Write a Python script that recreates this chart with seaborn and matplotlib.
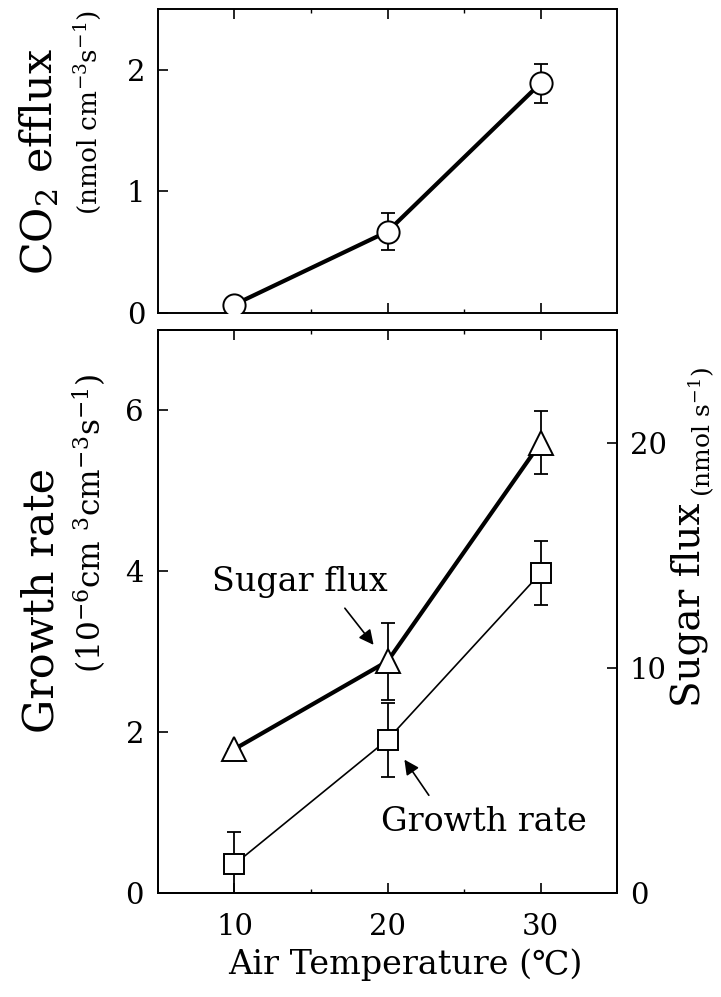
import matplotlib
matplotlib.use("Agg")
import matplotlib.pyplot as plt
import numpy as np
import pandas as pd
import seaborn as sns

# air temperature (C)
temp = [10, 20, 30]

# CO2 efflux (nmol cm-3 s-1)
co2 = [0.07, 0.67, 1.89]
co2_err = [0.0, 0.15, 0.16]

# growth rate (1e-6 cm3 cm-3 s-1)
growth = [0.36, 1.91, 3.98]
growth_err = [0.40, 0.46, 0.40]

# sugar flux (nmol s-1)
sugar = [6.4, 10.3, 20.0]
sugar_err = [0.0, 1.7, 1.4]

sns.set_style('ticks')
plt.rcParams['font.family'] = ['DejaVu Serif']
plt.rcParams['mathtext.fontset'] = 'dejavuserif'
plt.rcParams['axes.linewidth'] = 1.4
plt.rcParams['axes.edgecolor'] = 'black'
plt.rcParams['text.color'] = 'black'
plt.rcParams['xtick.color'] = 'black'
plt.rcParams['ytick.color'] = 'black'

df = pd.DataFrame({'temp': temp, 'co2': co2, 'growth': growth, 'sugar': sugar})

fig = plt.figure(figsize=(7.21, 9.97), dpi=100)
ax1 = fig.add_axes([0.219, 0.686, 0.637, 0.305])
ax = fig.add_axes([0.219, 0.104, 0.637, 0.565])
ax2 = ax.twinx()

mk = dict(markerfacecolor='white', markeredgecolor='black', markeredgewidth=1.4)
eb = dict(fmt='none', ecolor='black', elinewidth=1.3, capsize=5, capthick=1.3, zorder=1)

# top panel: CO2 efflux
ax1.errorbar(temp, co2, yerr=co2_err, **eb)
sns.lineplot(data=df, x='temp', y='co2', ax=ax1, color='black', linewidth=3,
             marker='o', markersize=16, zorder=3, **mk)
ax1.set_xlim(5, 35)
ax1.set_ylim(0, 2.5)
ax1.set_yticks([0, 1, 2])
ax1.set_xticks([10, 20, 30])
ax1.set_xticks([15, 25], minor=True)
ax1.set_xticklabels([])
ax1.set_xlabel('')
ax1.set_ylabel('')
ax1.tick_params(direction='in', length=7, width=1.2, labelsize=21, pad=9,
                top=True, right=False)
ax1.tick_params(which='minor', direction='in', length=3, width=1, top=True)

# bottom panel: growth rate (left) and sugar flux (right)
ax.errorbar(temp, growth, yerr=growth_err, **eb)
sns.lineplot(data=df, x='temp', y='growth', ax=ax, color='black', linewidth=1.2,
             marker='s', markersize=15, zorder=3, **mk)
ax2.errorbar(temp, sugar, yerr=sugar_err, **eb)
sns.lineplot(data=df, x='temp', y='sugar', ax=ax2, color='black', linewidth=3,
             marker='^', markersize=17, zorder=3, **mk)

ax.set_xlim(5, 35)
ax.set_ylim(0, 7)
ax2.set_ylim(0, 25)
ax.set_yticks([0, 2, 4, 6])
ax2.set_yticks([0, 10, 20])
ax.set_xticks([10, 20, 30])
ax.set_xticks([15, 25], minor=True)
ax.set_xlabel('')
ax.set_ylabel('')
ax2.set_ylabel('')
ax.tick_params(direction='in', length=7, width=1.2, labelsize=21, pad=10,
               top=True, right=False)
ax.tick_params(axis='x', pad=14)
ax.tick_params(which='minor', direction='in', length=3, width=1, top=True)
ax2.tick_params(direction='in', length=7, width=1.2, labelsize=21, pad=9)
for s in ax2.spines.values():
    s.set_linewidth(1.4)

# annotations
ax.text(14.3, 3.87, 'Sugar flux', fontsize=24, ha='center', va='center')
ax.annotate('', xy=(19.2, 3.06), xytext=(17.1, 3.57),
            arrowprops=dict(arrowstyle='-|>', color='black', lw=1.2,
                            mutation_scale=22))
ax.text(26.3, 0.89, 'Growth rate', fontsize=24, ha='center', va='center')
ax.annotate('', xy=(21.0, 1.69), xytext=(22.8, 1.19),
            arrowprops=dict(arrowstyle='-|>', color='black', lw=1.2,
                            mutation_scale=22))

# axis labels
fig.text(40 / 721, 1 - 162 / 997, 'CO$_2$ efflux', rotation=90, fontsize=31,
         ha='center', va='center')
fig.text(88 / 721, 1 - 113 / 997, '(nmol cm$^{-3}$s$^{-1}$)', rotation=90,
         fontsize=19, ha='center', va='center')
fig.text(42 / 721, 1 - 600 / 997, 'Growth rate', rotation=90, fontsize=31,
         ha='center', va='center')
fig.text(90 / 721, 1 - 523 / 997, '(10$^{-6}$cm $^{3}$cm$^{-3}$s$^{-1}$)',
         rotation=90, fontsize=22.5, ha='center', va='center')
fig.text(690 / 721, 1 - 605 / 997, 'Sugar flux', rotation=90, fontsize=28,
         ha='center', va='center')
fig.text(702 / 721, 1 - 432 / 997, '(nmol s$^{-1}$)', rotation=90,
         fontsize=18, ha='center', va='center')
fig.text(405 / 721, 1 - 965 / 997, 'Air Temperature (℃)', fontsize=24,
         ha='center', va='center')

fig.savefig('out.png', dpi=100)
